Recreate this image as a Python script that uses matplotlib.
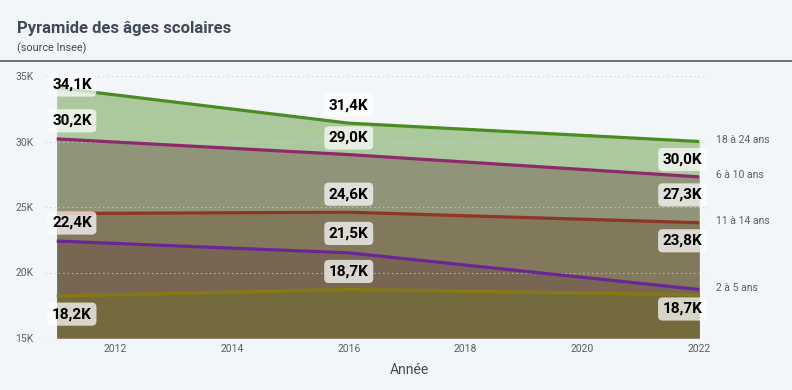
#!/usr/bin/env python3

import numpy as np
import matplotlib.pyplot as plt
from matplotlib.lines import Line2D

# data (en milliers)
years = [2011, 2016, 2022]
series_names = ['18 à 24 ans', '6 à 10 ans', '11 à 14 ans', '15 à 17 ans', '2 à 5 ans']
v_18_24 = [34.1, 31.4, 30.0]
v_6_10 = [30.2, 29.0, 27.3]
v_11_14 = [24.5, 24.6, 23.8]
v_15_17 = [22.4, 21.5, 18.7]
v_2_5 = [18.2, 18.7, 18.3]
yticks = [15, 20, 25, 30, 35]
xticks = [2012, 2014, 2016, 2018, 2020, 2022]

values = [v_18_24, v_6_10, v_11_14, v_15_17, v_2_5]
colors = ['#4a8c22', '#8c2a6c', '#8e3526', '#6b2695', '#857a12']
# which labels to show: (series index, year index, offset in points)
labels = [(0, 0, 2), (1, 0, 13), (3, 0, 13), (4, 0, -13),
          (0, 1, 13), (1, 1, 12), (2, 1, 13), (3, 1, 14), (4, 1, 13),
          (0, 2, -13), (1, 2, -13), (2, 2, -13), (3, 2, -14)]
xshift = {0: 11, 1: 0, 2: -12}
right_names = {0: '18 à 24 ans', 1: '6 à 10 ans', 2: '11 à 14 ans', 3: '2 à 5 ans'}

bg = '#f3f6f9'
fnt = 'Roboto'
fig = plt.figure(figsize=(7.92, 3.90), dpi=100, facecolor=bg)
ax = fig.add_axes([45/792, 1-338/390, (708-45)/792, (338-76)/390], facecolor=bg)

# fills: the olive one ends on top
for i, a in zip([3, 2, 1, 0, 4], [0.45, 0.45, 0.45, 0.42, 0.4]):
    c = '#6f7222' if i == 4 else colors[i]
    ax.fill_between(years, values[i], 15, color=c, alpha=a, lw=0, zorder=1)
for y in yticks:
    ax.axhline(y, color='#c9ced4', lw=0.8, ls=(0, (1, 3)), zorder=2)
for i in [4, 3, 2, 1, 0]:
    ax.plot(years, values[i], color=colors[i], lw=2.3, zorder=3, solid_capstyle='butt')

for si, yi, off in labels:
    v = values[si][yi]
    txt = ('%.1fK' % v).replace('.', ',')
    ax.annotate(txt, (years[yi], v), xytext=(xshift[yi], off), textcoords='offset points',
                ha='center', va='center', fontsize=11, fontweight='bold', family=fnt,
                color='black', zorder=5, annotation_clip=False,
                bbox=dict(boxstyle='round,pad=0.3,rounding_size=0.3', fc='white', ec='none', alpha=0.72))

for si, nm in right_names.items():
    ax.annotate(nm, (years[-1], values[si][-1]), xytext=(12, 1), textcoords='offset points',
                ha='left', va='center', fontsize=7.5, color='#5a5f66', family=fnt,
                annotation_clip=False)

ax.set_xlim(2010.8, 2022.15)
ax.set_ylim(15, 35)
ax.set_yticks(yticks)
ax.set_yticklabels(['%dK' % t for t in yticks])
ax.set_xticks(xticks)
ax.set_xticklabels([str(t) for t in xticks])
ax.tick_params(length=0, labelsize=7.5, labelcolor='#5a5f66', pad=4)
ax.tick_params(axis='y', pad=8)
for lab in ax.get_xticklabels() + ax.get_yticklabels():
    lab.set_family(fnt)
for s in ax.spines.values():
    s.set_visible(False)
ax.set_xlabel('Année', fontsize=10, color='#3f4a56', family=fnt)
ax.xaxis.set_label_coords(0.549, -0.095)

fig.text(17/792, 1-28/390, 'Pyramide des âges scolaires', fontsize=12, fontweight='bold',
         color='#3f4a56', family=fnt, va='center')
fig.text(17/792, 1-48/390, '(source Insee)', fontsize=7.8, color='#3f4a56', family=fnt, va='center')
fig.add_artist(Line2D([0, 1], [1-61/390, 1-61/390], color='#555a60', lw=1.2))

fig.savefig('out.png', dpi=100, facecolor=bg)
